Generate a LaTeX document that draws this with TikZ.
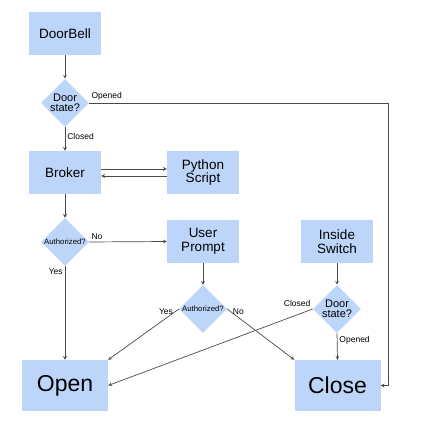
\documentclass[tikz,border=0pt]{standalone}
\usepackage{fontspec}
\setmainfont{Liberation Sans}
\usetikzlibrary{arrows,positioning,shapes.geometric}
\definecolor{boxblue}{HTML}{BED5FA}
\definecolor{linegray}{HTML}{4A4A4A}

\begin{document}
\begin{tikzpicture}[>=stealth, x=1pt, y=-1pt,
  box/.style={fill=boxblue, inner sep=0pt, minimum width=72pt, minimum height=43pt,
    align=center, font=\fontsize{13.5}{13.5}\selectfont},
  bigbox/.style={fill=boxblue, inner sep=0pt, minimum width=86pt, minimum height=51pt,
    font=\fontsize{23}{23}\selectfont},
  decide/.style={diamond, fill=boxblue, inner sep=0pt, minimum width=48pt, minimum height=48pt,
    align=center},
  lbl/.style={font=\fontsize{8.5}{8.5}\selectfont, inner sep=2pt},
  flow/.style={->, draw=linegray, line width=0.7pt}]
  \useasboundingbox (0,0) rectangle (434,433);

  % Left column
  \node[box] (DB) at (65,33.5) {DoorBell};
  \node[decide, font=\fontsize{11}{10.5}\selectfont] (DS1) at (65,103) {Door\\state?};
  \node[box] (BR) at (65,172.5) {Broker};
  \node[decide, font=\fontsize{7.8}{7.8}\selectfont] (AU1) at (65,242) {Authorized?};
  \node[bigbox] (OP) at (65,385.5) {Open};

  % Middle column
  \node[box] (PY) at (203,172.5) {Python\\Script};
  \node[box] (UP) at (203,241.5) {User\\Prompt};
  \node[decide, font=\fontsize{7.8}{7.8}\selectfont] (AU2) at (203,309) {Authorized?};

  % Right column
  \node[box] (IS) at (337,241.5) {Inside\\Switch};
  \node[decide, font=\fontsize{11}{10.5}\selectfont] (DS2) at (337,309) {Door\\state?};
  \node[bigbox] (CL) at (337.5,385.5) {Close};
  \coordinate (R) at (388,103);

  % Connectors
  \draw[flow] (DB) -- (DS1);
  \draw[flow] (DS1) -- node[lbl, pos=0.4, anchor=west] {Closed} (BR);
  \draw[flow] (DS1.east) -- node[lbl, pos=0, anchor=south west] {Opened} (R) |- (CL.east);
  \draw[flow] ([yshift=3.5pt]BR.east) -- ([yshift=3.5pt]PY.west);
  \draw[flow] ([yshift=-3.5pt]PY.west) -- ([yshift=-3.5pt]BR.east);
  \draw[flow] (BR) -- (AU1);
  \draw[flow] (AU1.east) -- node[lbl, pos=0, anchor=south west] {No} (UP.west);
  \draw[flow] (AU1.south) -- node[lbl, pos=0, anchor=north east] {Yes} (OP.north);
  \draw[flow] (UP) -- (AU2);
  \draw[flow] (AU2.west) -- node[lbl, pos=0.05, anchor=east] {Yes} (OP.north east);
  \draw[flow] (AU2.east) -- node[lbl, pos=0.05, anchor=west] {No} (CL.north west);
  \draw[flow] (IS) -- (DS2);
  \draw[flow] (DS2.west) -- node[lbl, pos=0, anchor=south east] {Closed} (OP.east);
  \draw[flow] (DS2.south) -- node[lbl, pos=0.25, anchor=west] {Opened} (CL.north);
\end{tikzpicture}
\end{document}
